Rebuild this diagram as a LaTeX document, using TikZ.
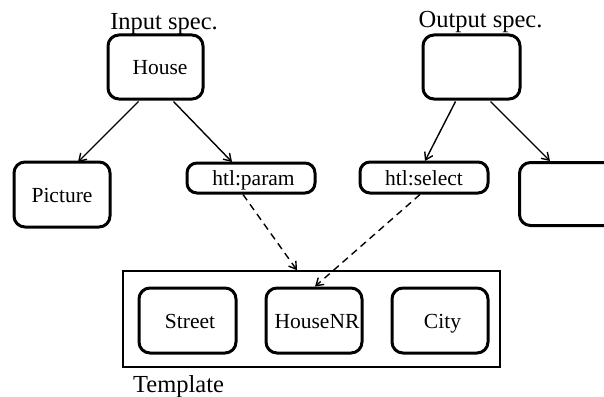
\documentclass[tikz,border=0pt]{standalone}
\usepackage{fontspec}
\setmainfont{Liberation Serif}
\usetikzlibrary{arrows.meta}
\begin{document}
\begin{tikzpicture}[x=1pt,y=-1pt,
  rbox/.style={draw,line width=3pt,rounded corners=11pt,inner sep=0pt,text height=15pt,text depth=0pt,font=\fontsize{21.5}{24}\selectfont},
  lbl/.style={inner sep=0pt,anchor=base,font=\fontsize{24.5}{28}\selectfont},
  arr/.style={line width=1.4pt,-{Straight Barb[length=7pt,width=9pt,line width=1.4pt]}},
  darr/.style={arr,dash pattern=on 7pt off 5pt}]
\useasboundingbox (0,0) rectangle (604,396);
\clip (0,0) rectangle (604,396);
% top boxes
\node[rbox,minimum width=95pt,minimum height=64pt] (house) at (155.5,67) {\hspace*{9pt}House};
\node[rbox,minimum width=97pt,minimum height=64pt] (out) at (471.5,67) {};
% second row
\node[rbox,minimum width=96pt,minimum height=65pt] (pic) at (62,194.5) {Picture};
\node[rbox,minimum width=128pt,minimum height=30pt,rounded corners=10pt] (param) at (251,178) {\hspace*{5pt}htl:param};
\node[rbox,minimum width=128pt,minimum height=31pt,rounded corners=10pt] (sel) at (424,177.5) {htl:select};
\node[rbox,minimum width=130pt,minimum height=63pt,anchor=north west] (rb) at (518,161) {};
% template
\node[draw,line width=1.6pt,minimum width=377pt,minimum height=96pt,inner sep=0pt] (tmpl) at (311.5,319) {};
\node[rbox,minimum width=97pt,minimum height=65pt] (street) at (187.5,320.5) {\hspace*{5pt}Street};
\node[rbox,minimum width=96pt,minimum height=65pt] (hnr) at (314,320.5) {\hspace*{6pt}HouseNR};
\node[rbox,minimum width=96pt,minimum height=65pt] (city) at (440,320.5) {\hspace*{5pt}City};
% labels
\node[lbl] (inl) at (164,30) {Input spec.};
\node[lbl] (outl) at (480.5,28) {Output spec.};
\node[lbl,anchor=base west] (tl) at (133,392) {Template};
% arrows
\draw[arr] (house.south) ++(-17,1) coordinate (h1) -- (78,162) coordinate (p1);
\draw[arr] (h1) ++(35,0) -- (232,162);
\draw[arr] (out.south) ++(-16,1) coordinate (o1) -- (425,161);
\draw[arr] (o1) ++(35,0) -- (550,161);
\draw[darr] (param.south) ++(-8,0) -- (tmpl.north -| 297,0);
\draw[darr] (sel.south) ++(-4,0) -- ([xshift=1pt]hnr.north);
\end{tikzpicture}
\end{document}
